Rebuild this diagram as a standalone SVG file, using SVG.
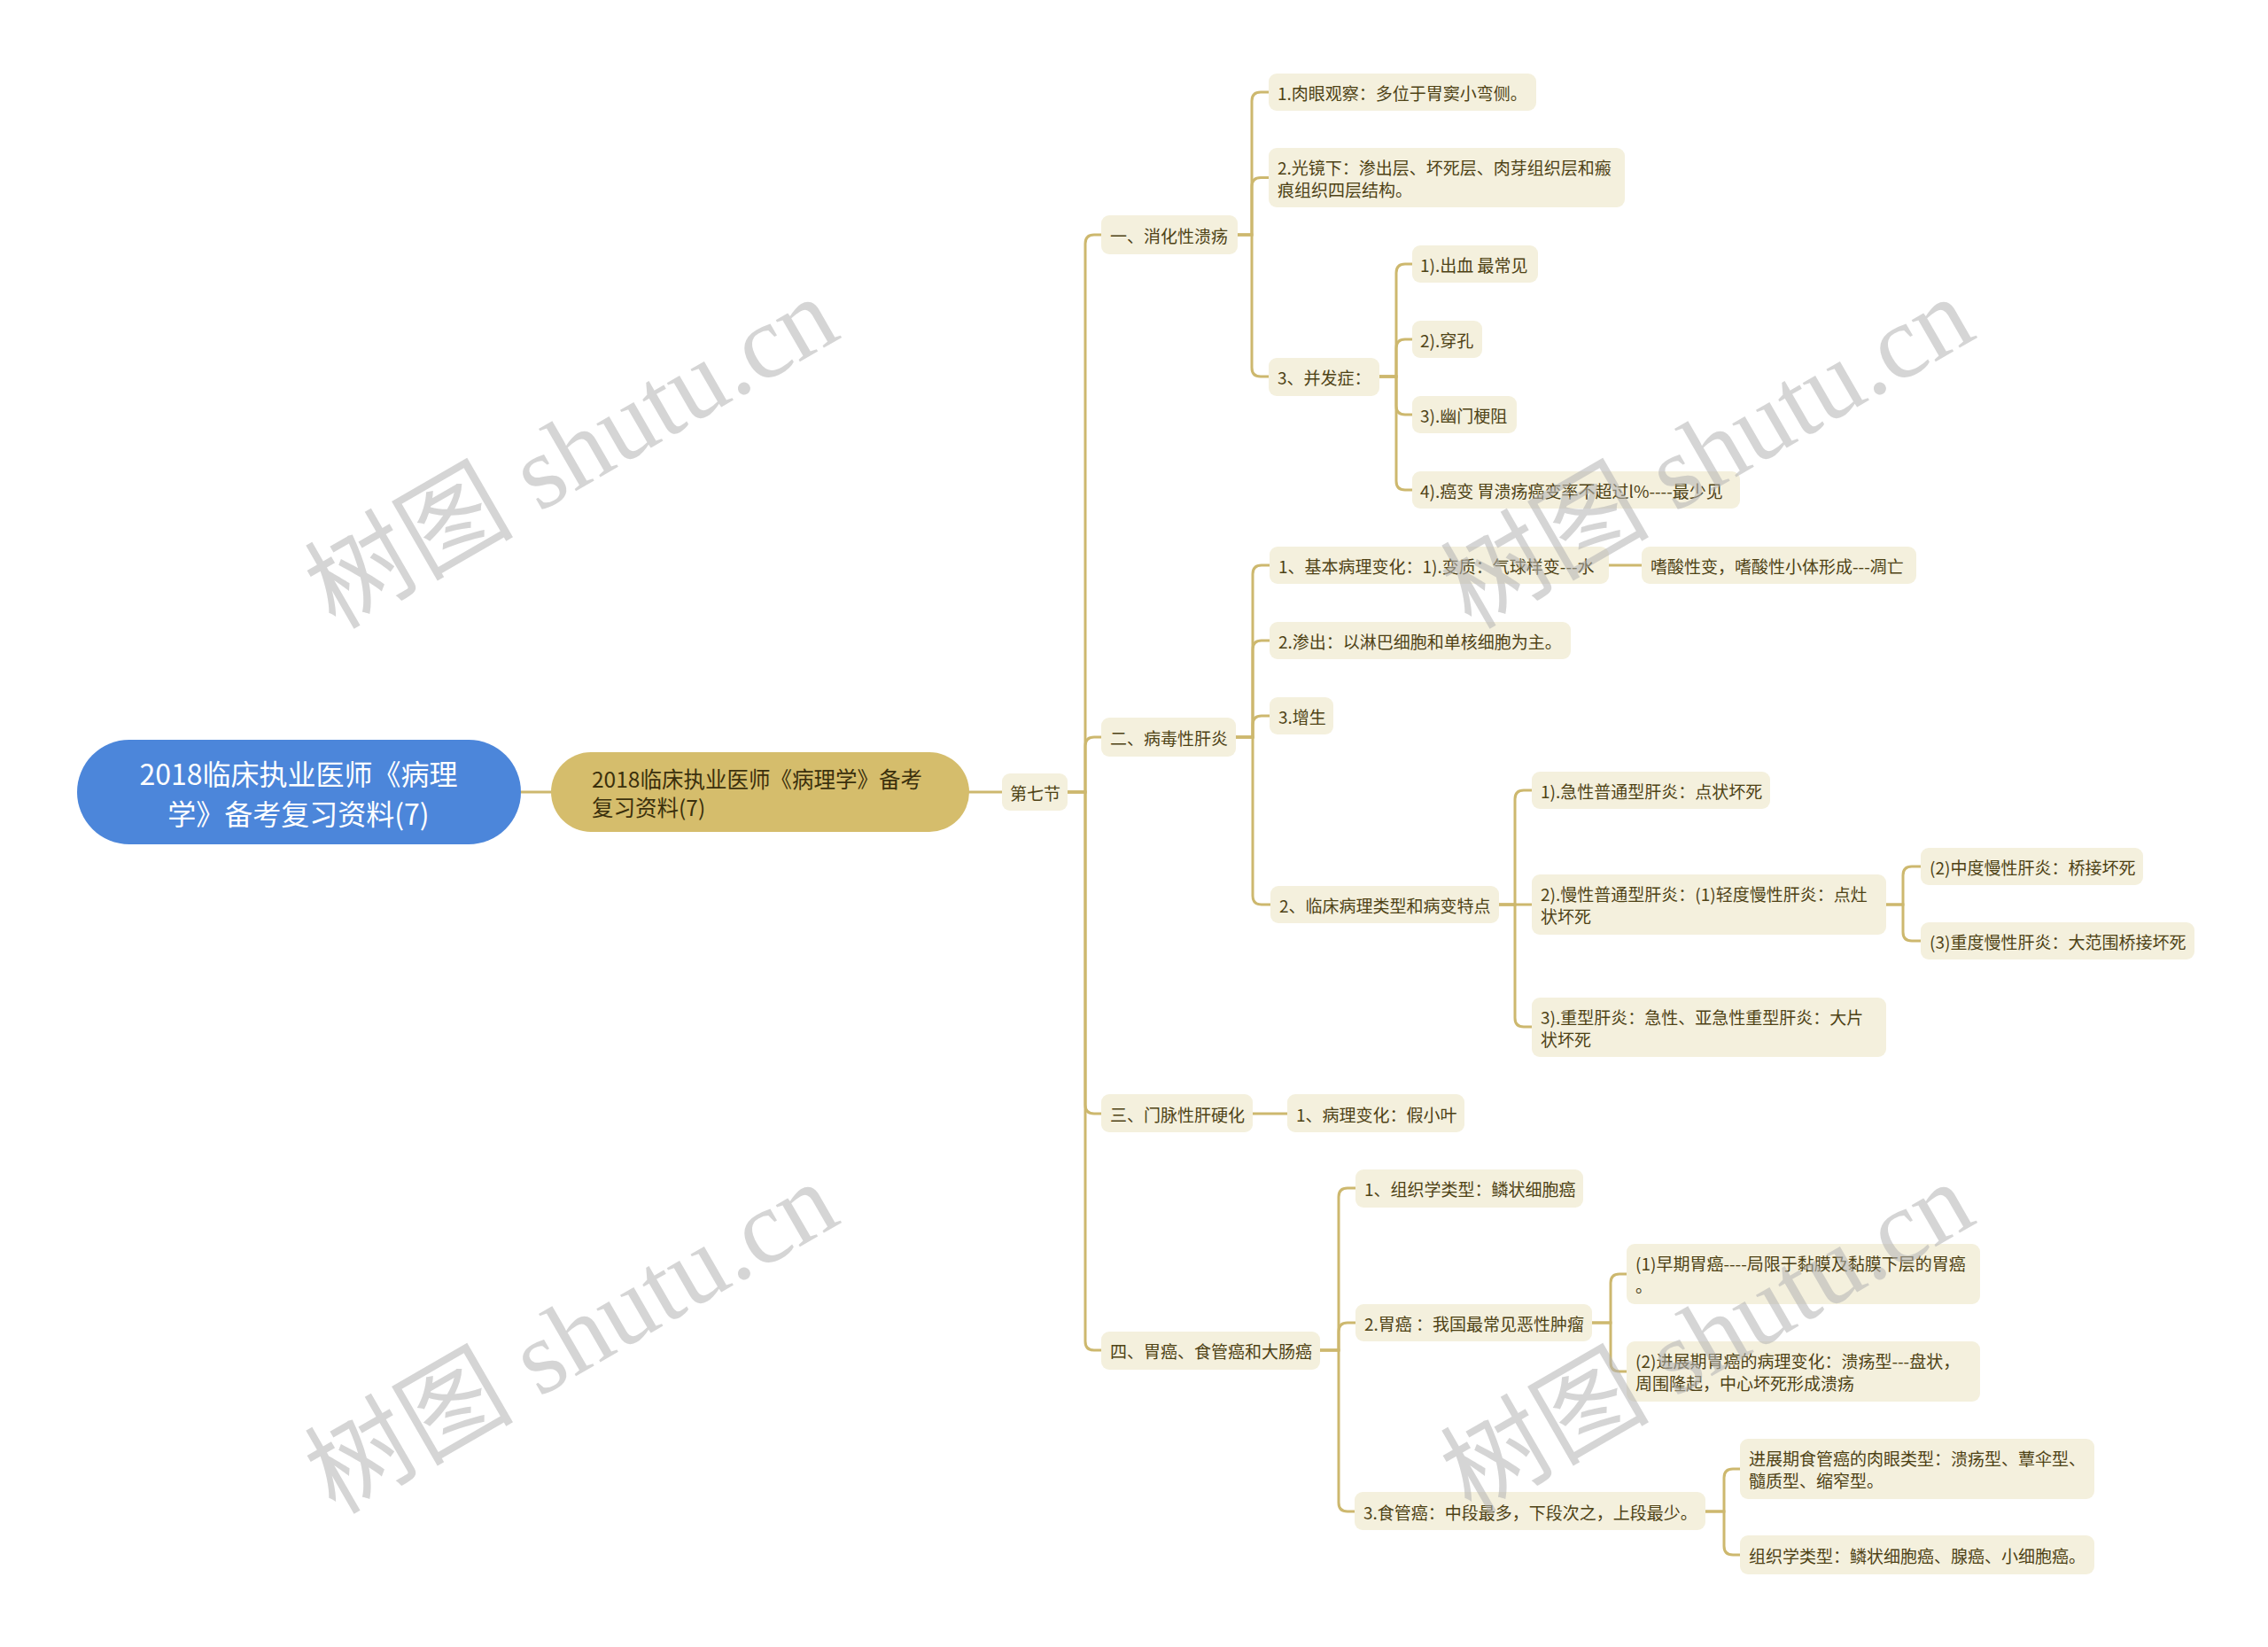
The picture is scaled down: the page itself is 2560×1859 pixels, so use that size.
<svg xmlns="http://www.w3.org/2000/svg" width="2560" height="1859" viewBox="0 0 2560 1859">
<style>
.n rect{fill:#f4f0dd}
.n text{font-family:"Noto Sans CJK SC","Liberation Sans",sans-serif;font-size:19px;fill:#4e4215;dominant-baseline:central}
.c path{fill:none;stroke:#cdb86e;stroke-width:3;stroke-linecap:round}
.wm{font-family:"Liberation Serif","Noto Sans CJK SC",serif;font-size:118px;fill:#b4b4b4;opacity:0.55;text-anchor:middle}
</style>
<rect width="2560" height="1859" fill="#ffffff"/>
<g class="c" id="connectors">
<path d="M588 894H622" stroke-width="4"/>
<path d="M1094 894H1131"/>
<path d="M1205 894H1225V275Q1225 265 1235 265H1243"/>
<path d="M1205 894H1225V842Q1225 832 1235 832H1243"/>
<path d="M1205 894H1225V1247Q1225 1257 1235 1257H1243"/>
<path d="M1205 894H1225V1514Q1225 1524 1235 1524H1243"/>
<path d="M1397 265H1413V114Q1413 104 1423 104H1432"/>
<path d="M1397 265H1413V210.5Q1413 200.5 1423 200.5H1432"/>
<path d="M1397 265H1413V415Q1413 425 1423 425H1432"/>
<path d="M1557 425H1576V308Q1576 298 1586 298H1594"/>
<path d="M1557 425H1576V393Q1576 383 1586 383H1594"/>
<path d="M1557 425H1576V458Q1576 468 1586 468H1594"/>
<path d="M1557 425H1576V543Q1576 553 1586 553H1594"/>
<path d="M1395 832H1414V648Q1414 638 1424 638H1433"/>
<path d="M1395 832H1414V733Q1414 723 1424 723H1433"/>
<path d="M1395 832H1414V818Q1414 808 1424 808H1433"/>
<path d="M1395 832H1414V1011Q1414 1021 1424 1021H1434"/>
<path d="M1816 638H1853"/>
<path d="M1692 1021H1710V902Q1710 892 1720 892H1729"/>
<path d="M1692 1021H1729"/>
<path d="M1692 1021H1710V1149Q1710 1159 1720 1159H1729"/>
<path d="M2129 1021H2148V988Q2148 978 2158 978H2168"/>
<path d="M2129 1021H2148V1052Q2148 1062 2158 1062H2168"/>
<path d="M1414 1257H1453"/>
<path d="M1490 1524H1511V1351Q1511 1341 1521 1341H1530"/>
<path d="M1490 1524H1511V1503Q1511 1493 1521 1493H1530"/>
<path d="M1490 1524H1511V1696Q1511 1706 1521 1706H1529"/>
<path d="M1797 1493H1818V1448Q1818 1438 1828 1438H1836"/>
<path d="M1797 1493H1818V1538Q1818 1548 1828 1548H1836"/>
<path d="M1925 1706H1946V1668Q1946 1658 1956 1658H1964"/>
<path d="M1925 1706H1946V1745Q1946 1755 1956 1755H1964"/>
</g>
<g id="root">
<rect x="87" y="835" width="501" height="118" rx="59" fill="#4c86da"/>
<text x="337" y="872" font-family="Noto Sans CJK SC, Liberation Sans, sans-serif" font-size="32" fill="#ffffff" text-anchor="middle" dominant-baseline="central">2018临床执业医师《病理</text>
<text x="337" y="917" font-family="Noto Sans CJK SC, Liberation Sans, sans-serif" font-size="32" fill="#ffffff" text-anchor="middle" dominant-baseline="central">学》备考复习资料(7)</text>
</g>
<g id="main">
<rect x="622" y="849" width="472" height="90" rx="45" fill="#d5bd6c"/>
<text x="668" y="878" font-family="Noto Sans CJK SC, Liberation Sans, sans-serif" font-size="24.5" fill="#3b300c" dominant-baseline="central">2018临床执业医师《病理学》备考</text>
<text x="668" y="910" font-family="Noto Sans CJK SC, Liberation Sans, sans-serif" font-size="24.5" fill="#3b300c" dominant-baseline="central">复习资料(7)</text>
</g>
<g class="n" id="sec7"><rect x="1131" y="873" width="74" height="42" rx="9"/><text x="1140" y="894">第七节</text></g>
<g class="n" id="n1"><rect x="1243" y="243" width="154" height="44" rx="9"/><text x="1253" y="265">一、消化性溃疡</text></g>
<g class="n" id="n1_1"><rect x="1432" y="83" width="302" height="42" rx="9"/><text x="1442" y="104">1.肉眼观察：多位于胃窦小弯侧。</text></g>
<g class="n" id="n1_2"><rect x="1432" y="167" width="402" height="67" rx="9"/><text x="1442" y="188">2.光镜下：渗出层、坏死层、肉芽组织层和瘢</text><text x="1442" y="213">痕组织四层结构。</text></g>
<g class="n" id="n1_3"><rect x="1432" y="404" width="125" height="43" rx="9"/><text x="1442" y="425">3、并发症：</text></g>
<g class="n" id="n1_3_1"><rect x="1594" y="277" width="142" height="42" rx="9"/><text x="1603" y="298">1).出血 最常见</text></g>
<g class="n" id="n1_3_2"><rect x="1594" y="362" width="79" height="42" rx="9"/><text x="1603" y="383">2).穿孔</text></g>
<g class="n" id="n1_3_3"><rect x="1594" y="447" width="118" height="42" rx="9"/><text x="1603" y="468">3).幽门梗阻</text></g>
<g class="n" id="n1_3_4"><rect x="1594" y="532" width="370" height="42" rx="9"/><text x="1603" y="553">4).癌变 胃溃疡癌变率不超过l%----最少见</text></g>
<g class="n" id="n2"><rect x="1243" y="810" width="152" height="44" rx="9"/><text x="1253" y="832">二、病毒性肝炎</text></g>
<g class="n" id="n2_1"><rect x="1433" y="617" width="383" height="42" rx="9"/><text x="1443" y="638">1、基本病理变化：1).变质：气球样变---水</text></g>
<g class="n" id="n2_1_1"><rect x="1853" y="617" width="310" height="42" rx="9"/><text x="1863" y="638">嗜酸性变，嗜酸性小体形成---凋亡</text></g>
<g class="n" id="n2_2"><rect x="1433" y="702" width="340" height="42" rx="9"/><text x="1443" y="723">2.渗出：以淋巴细胞和单核细胞为主。</text></g>
<g class="n" id="n2_3"><rect x="1433" y="787" width="72" height="42" rx="9"/><text x="1443" y="808">3.增生</text></g>
<g class="n" id="n2_4"><rect x="1434" y="1000" width="258" height="42" rx="9"/><text x="1444" y="1021">2、临床病理类型和病变特点</text></g>
<g class="n" id="n2_4_1"><rect x="1729" y="871" width="269" height="42" rx="9"/><text x="1739" y="892">1).急性普通型肝炎：点状坏死</text></g>
<g class="n" id="n2_4_2"><rect x="1729" y="987" width="400" height="68" rx="9"/><text x="1739" y="1008.5">2).慢性普通型肝炎：(1)轻度慢性肝炎：点灶</text><text x="1739" y="1033.5">状坏死</text></g>
<g class="n" id="n2_4_2_1"><rect x="2168" y="957" width="251" height="42" rx="9"/><text x="2178" y="978">(2)中度慢性肝炎：桥接坏死</text></g>
<g class="n" id="n2_4_2_2"><rect x="2168" y="1041" width="309" height="42" rx="9"/><text x="2178" y="1062">(3)重度慢性肝炎：大范围桥接坏死</text></g>
<g class="n" id="n2_4_3"><rect x="1729" y="1126" width="400" height="67" rx="9"/><text x="1739" y="1147">3).重型肝炎：急性、亚急性重型肝炎：大片</text><text x="1739" y="1172">状坏死</text></g>
<g class="n" id="n3"><rect x="1243" y="1235" width="171" height="43" rx="9"/><text x="1253" y="1257">三、门脉性肝硬化</text></g>
<g class="n" id="n3_1"><rect x="1453" y="1235" width="200" height="43" rx="9"/><text x="1463" y="1257">1、病理变化：假小叶</text></g>
<g class="n" id="n4"><rect x="1243" y="1503" width="247" height="43" rx="9"/><text x="1253" y="1524">四、胃癌、食管癌和大肠癌</text></g>
<g class="n" id="n4_1"><rect x="1530" y="1320" width="257" height="43" rx="9"/><text x="1540" y="1341">1、组织学类型：鳞状细胞癌</text></g>
<g class="n" id="n4_2"><rect x="1530" y="1472" width="267" height="42" rx="9"/><text x="1540" y="1493">2.胃癌 ：我国最常见恶性肿瘤</text></g>
<g class="n" id="n4_2_1"><rect x="1836" y="1404" width="399" height="68" rx="9"/><text x="1846" y="1425.5">(1)早期胃癌----局限于黏膜及黏膜下层的胃癌</text><text x="1846" y="1450.5">。</text></g>
<g class="n" id="n4_2_2"><rect x="1836" y="1514" width="399" height="68" rx="9"/><text x="1846" y="1535.5">(2)进展期胃癌的病理变化：溃疡型---盘状，</text><text x="1846" y="1560.5">周围隆起，中心坏死形成溃疡</text></g>
<g class="n" id="n4_3"><rect x="1529" y="1684" width="396" height="43" rx="9"/><text x="1539" y="1706">3.食管癌：中段最多，下段次之，上段最少。</text></g>
<g class="n" id="n4_3_1"><rect x="1964" y="1624" width="400" height="68" rx="9"/><text x="1974" y="1645.5">进展期食管癌的肉眼类型：溃疡型、蕈伞型、</text><text x="1974" y="1670.5">髓质型、缩窄型。</text></g>
<g class="n" id="n4_3_2"><rect x="1964" y="1733" width="400" height="44" rx="9"/><text x="1974" y="1755">组织学类型：鳞状细胞癌、腺癌、小细胞癌。</text></g>
<g id="watermarks">
<text class="wm" x="645" y="551" transform="rotate(-30 645 511)">树图 shutu.cn</text>
<text class="wm" x="1927" y="551" transform="rotate(-30 1927 511)">树图 shutu.cn</text>
<text class="wm" x="645" y="1550" transform="rotate(-30 645 1510)">树图 shutu.cn</text>
<text class="wm" x="1927" y="1550" transform="rotate(-30 1927 1510)">树图 shutu.cn</text>
</g>
</svg>
